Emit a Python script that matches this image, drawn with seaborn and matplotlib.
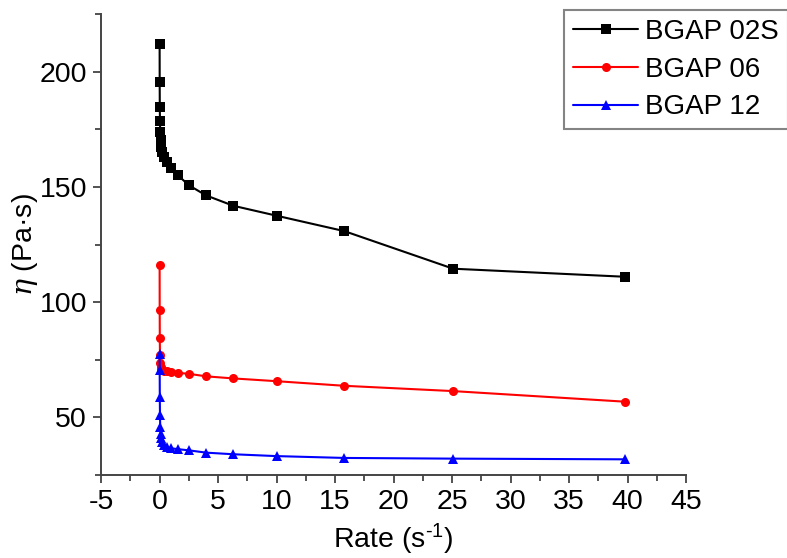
import numpy as np
import pandas as pd
import matplotlib
matplotlib.use("Agg")
import matplotlib.pyplot as plt
import seaborn as sns
from matplotlib.ticker import MultipleLocator

# Shear rate sweep (s^-1), five points per decade
rate = [0.01, 0.0158, 0.0251, 0.0398, 0.0631, 0.1, 0.158, 0.251, 0.398, 0.631,
        1.0, 1.58, 2.51, 3.98, 6.31, 10.0, 15.8, 25.1, 39.8]

# Viscosity (Pa·s) for each sample
eta_02s = [212, 195.3, 184.6, 178.6, 174, 170.5, 167.5, 165, 163, 161,
           158.4, 155, 150.7, 146.3, 141.8, 137.5, 130.8, 114.5, 111.0]
eta_06 = [116, 96.7, 84.5, 77.0, 73.5, 72.0, 71.0, 70.5, 70.2, 70.0,
          69.6, 69.3, 68.9, 67.8, 66.9, 65.7, 63.7, 61.4, 56.8]
eta_12 = [77.6, 70.4, 59.0, 51.0, 46.0, 43.0, 41.0, 39.3, 38.0, 37.2,
          36.6, 36.2, 35.7, 34.7, 34.0, 33.2, 32.4, 32.1, 31.8]

samples = ["BGAP 02S", "BGAP 06", "BGAP 12"]
colors = {"BGAP 02S": "#000000", "BGAP 06": "#ff0000", "BGAP 12": "#0000ff"}
markers = {"BGAP 02S": "s", "BGAP 06": "o", "BGAP 12": "^"}
marker_sizes = {"BGAP 02S": 7.5, "BGAP 06": 8.5, "BGAP 12": 8.5}

df = pd.concat([
    pd.DataFrame({"rate": rate, "eta": vals, "sample": name})
    for name, vals in zip(samples, [eta_02s, eta_06, eta_12])
], ignore_index=True)

sns.set_style("ticks")
plt.rcParams["font.family"] = ["Liberation Sans", "DejaVu Sans"]
plt.rcParams["mathtext.fontset"] = "custom"
plt.rcParams["mathtext.rm"] = "Liberation Sans"
plt.rcParams["mathtext.it"] = "DejaVu Serif:italic"
plt.rcParams["axes.unicode_minus"] = False
plt.rcParams["text.color"] = "black"
plt.rcParams["axes.labelcolor"] = "black"
plt.rcParams["xtick.color"] = "black"
plt.rcParams["ytick.color"] = "black"

fig = plt.figure(figsize=(7.87, 5.58), dpi=100)
ax = fig.add_axes([101 / 787, 1 - 475 / 558, 585 / 787, 461 / 558])

for name in samples:
    sns.lineplot(data=df[df["sample"] == name], x="rate", y="eta",
                 color=colors[name], marker=markers[name],
                 markersize=marker_sizes[name], markeredgewidth=0,
                 linewidth=1.5, label=name, ax=ax, sort=False)

ax.set_xlim(-5, 45)
ax.set_ylim(25, 225)
ax.xaxis.set_major_locator(MultipleLocator(5))
ax.xaxis.set_minor_locator(MultipleLocator(2.5))
ax.yaxis.set_major_locator(MultipleLocator(50))
ax.yaxis.set_minor_locator(MultipleLocator(25))

for side in ["top", "right"]:
    ax.spines[side].set_visible(False)
for side in ["left", "bottom"]:
    ax.spines[side].set_linewidth(1.4)
    ax.spines[side].set_color("#444444")

ax.tick_params(which="major", direction="out", length=6, width=1.3,
               color="#444444", labelcolor="black", labelsize=20.5, pad=4)
ax.tick_params(which="minor", direction="out", length=4, width=1.3,
               color="#444444")

ax.set_xlabel("Rate (s$^{\\text{-1}}$)", fontsize=20.5, labelpad=5)
ax.set_ylabel("$\\mathit{\\eta}$ (Pa·s)", fontsize=20.5, labelpad=0)

handles, labels = ax.get_legend_handles_labels()
for h in handles:
    h.set_markersize(6.5)
leg = ax.legend(handles, labels, loc="upper left",
                bbox_to_anchor=(564 / 787, 1 - 10 / 558),
                bbox_transform=fig.transFigure, borderaxespad=0,
                fontsize=20, frameon=True, fancybox=False,
                handlelength=2.35, handletextpad=0.25, labelspacing=0.42,
                borderpad=0.32)
leg.get_frame().set_edgecolor("#666666")
leg.get_frame().set_linewidth(1.5)

fig.savefig("out.png", dpi=100)
